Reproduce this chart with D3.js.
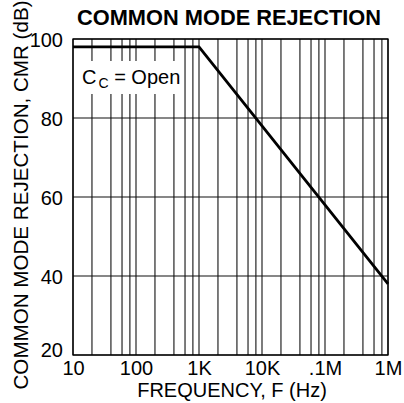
<!DOCTYPE html>
<html>
<head>
<meta charset="utf-8">
<script src="https://cdn.jsdelivr.net/npm/d3@7"></script>
<style>
  html, body { margin: 0; padding: 0; background: #fff; }
  svg { display: block; font-family: "Liberation Sans", Arial, sans-serif; }
</style>
</head>
<body>
<script>
// ---- data ----
const frequencies = [10, 1000, 10000, 100000, 1000000];
const cmrValues = [98, 98, 78, 58, 38];
const xTickValues = [10, 100, 1000, 10000, 100000, 1000000];
const xTickLabels = ["10", "100", "1K", "10K", ".1M", "1M"];
const yTickValues = [20, 40, 60, 80, 100];
const gridMultipliers = [1, 2, 4, 6, 8];
const titleText = "COMMON MODE REJECTION";
const xTitle = "FREQUENCY, F (Hz)";
const yTitle = "COMMON MODE REJECTION, CMR (dB)";

(function () {
const W = 404, H = 403;
const pLeft = 73, pRight = 388, pTop = 39, pBottom = 355;
const FONT = "'Liberation Sans', Arial, sans-serif";

const svg = d3.select("body").append("svg").attr("width", W).attr("height", H);

const x = d3.scaleLog().domain([10, 1e6]).range([pLeft, pRight]);
const y = d3.scaleLinear().domain([20, 100]).range([pBottom, pTop]);

// vertical grid lines
const vGrid = [];
for (let dec = 10; dec < 1e6; dec *= 10) {
  gridMultipliers.forEach(m => vGrid.push(dec * m));
}
vGrid.push(1e6);
svg.append("g").selectAll("line").data(vGrid).join("line")
  .attr("x1", d => x(d)).attr("x2", d => x(d))
  .attr("y1", pTop).attr("y2", pBottom)
  .attr("stroke", "#111").attr("stroke-width", 1.1);

// horizontal grid lines
svg.append("g").selectAll("line").data(yTickValues).join("line")
  .attr("x1", pLeft).attr("x2", pRight)
  .attr("y1", d => y(d)).attr("y2", d => y(d))
  .attr("stroke", "#111").attr("stroke-width", 1.1);

// frame
svg.append("rect").attr("x", pLeft).attr("y", pTop)
  .attr("width", pRight - pLeft).attr("height", pBottom - pTop)
  .attr("fill", "none").attr("stroke", "#000").attr("stroke-width", 1.3);

// label box (white background) and label
svg.append("rect").attr("x", 77).attr("y", 61).attr("width", 105).attr("height", 33)
  .attr("fill", "#fff");
const lbl = svg.append("text").attr("x", 82).attr("y", 84)
  .attr("font-size", 20).attr("fill", "#000");
lbl.append("tspan").text("C");
lbl.append("tspan").attr("dx", 2).attr("dy", 4).attr("font-size", 14).text("C");
lbl.append("tspan").attr("dy", -4).text(" = Open");

// data line
const line = d3.line().x((d, i) => x(frequencies[i])).y(d => y(d));
svg.append("path").datum(cmrValues)
  .attr("d", line).attr("fill", "none")
  .attr("stroke", "#000").attr("stroke-width", 2.8)
  .attr("stroke-linejoin", "miter");

// axes (labels only)
const xAxis = d3.axisBottom(x).tickValues(xTickValues)
  .tickFormat((d, i) => xTickLabels[i]).tickSize(0).tickPadding(6);
const gx = svg.append("g").attr("transform", `translate(0,${pBottom})`).call(xAxis);
gx.attr("font-family", FONT).attr("font-size", 20);
gx.select(".domain").remove();
gx.selectAll("text").attr("fill", "#000");

const yAxis = d3.axisLeft(y).tickValues(yTickValues).tickSize(0).tickPadding(10);
const gy = svg.append("g").attr("transform", `translate(${pLeft},0)`).call(yAxis);
gy.attr("font-family", FONT).attr("font-size", 20);
gy.select(".domain").remove();
gy.selectAll("text").attr("fill", "#000")
  .attr("dy", (d, i) => i === 0 ? "0.05em" : "0.38em");

// titles
svg.append("text").attr("x", 229).attr("y", 25).attr("text-anchor", "middle")
  .attr("font-size", 21.8).attr("font-weight", "bold").text(titleText);
svg.append("text").attr("x", 232).attr("y", 397).attr("text-anchor", "middle")
  .attr("font-size", 20).text(xTitle);
svg.append("text").attr("transform", "translate(28,195) rotate(-90)")
  .attr("text-anchor", "middle").attr("font-size", 20.6).text(yTitle);
})();
</script>
</body>
</html>
